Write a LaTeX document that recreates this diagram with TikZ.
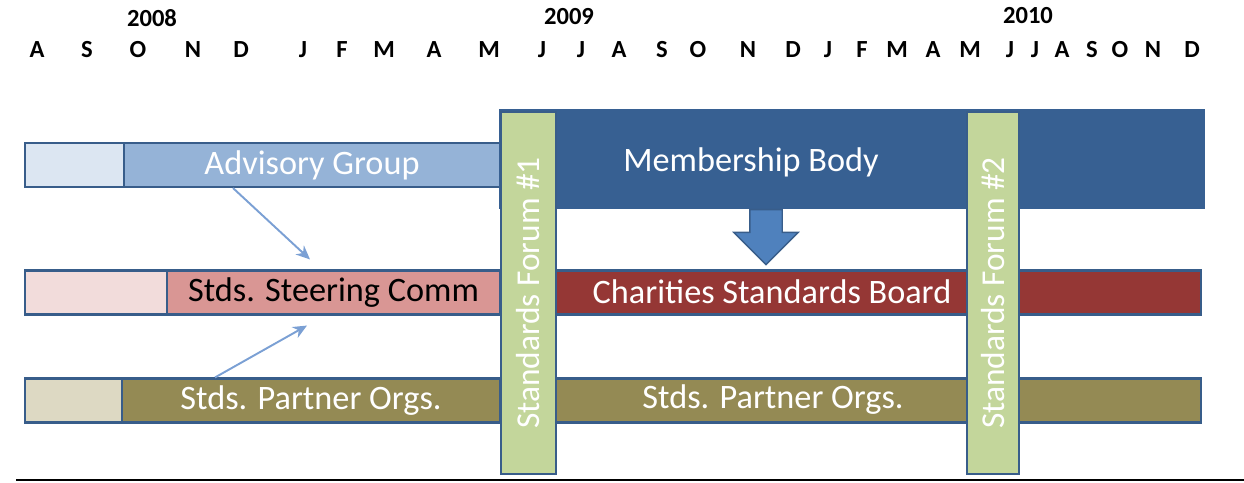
\documentclass[tikz,border=0pt]{standalone}
\usepackage{fontspec}
\setmainfont{Carlito}
\usepackage{tikz}
\usepackage{xcolor}
\usetikzlibrary{arrows.meta,shapes.arrows}

\definecolor{edgeblue}{HTML}{385D8A}
\definecolor{advlight}{HTML}{DCE6F2}
\definecolor{advmain}{HTML}{95B3D7}
\definecolor{stlight}{HTML}{F2DCDB}
\definecolor{stmain}{HTML}{D99694}
\definecolor{ptlight}{HTML}{DDD9C3}
\definecolor{ptmain}{HTML}{948A54}
\definecolor{memblue}{HTML}{376092}
\definecolor{csbred}{HTML}{953735}
\definecolor{forumgreen}{HTML}{C3D69B}
\definecolor{arrowfill}{HTML}{4F81BD}
\definecolor{linkblue}{HTML}{7BA0D4}

\begin{document}
\begin{tikzpicture}[x=0.02cm, y=-0.02cm,
    month/.style={font=\fontsize{14}{16}\selectfont\bfseries, inner sep=0pt},
    barbox/.style={rectangle, draw=edgeblue, line width=1.2pt, inner sep=0pt, minimum height=0.88cm, font=\fontsize{19.5}{22}\selectfont, text=white},
    lbl/.style={inner sep=0pt, font=\fontsize{19.5}{22}\selectfont, text=white},
    forum/.style={rectangle, rotate=90, draw=edgeblue, line width=1.2pt, fill=forumgreen, inner sep=0pt, minimum width=7.24cm, font=\fontsize{19}{22}\selectfont, text=white},
    link/.style={draw=linkblue, line width=1.1pt, -{Stealth[length=8pt,width=7pt]}}]
                \useasboundingbox (0,0) rectangle (1244,483);

                % years
                \node[month] (y2008) at (152,18) {2008};
                \node[month] (y2009) at (569,17) {2009};
                \node[month] (y2010) at (1028,16) {2010};

                % months
                \node[month] (aug08) at (37,50) {A};
                \node[month] (sep08) at (87,50) {S};
                \node[month] (oct08) at (138,50) {O};
                \node[month] (nov08) at (193,50) {N};
                \node[month] (dec08) at (241,50) {D};
                \node[month] (jan09) at (303,50) {J};
                \node[month] (feb09) at (342,50) {F};
                \node[month] (mar09) at (384,50) {M};
                \node[month] (apr09) at (434,50) {A};
                \node[month] (may09) at (489,50) {M};
                \node[month] (jun09) at (542,50) {J};
                \node[month] (jul09) at (581,50) {J};
                \node[month] (aug09) at (619,50) {A};
                \node[month] (sep09) at (662,50) {S};
                \node[month] (oct09) at (698,50) {O};
                \node[month] (nov09) at (748,50) {N};
                \node[month] (dec09) at (793,50) {D};
                \node[month] (jan10) at (828,50) {J};
                \node[month] (feb10) at (862,50) {F};
                \node[month] (mar10) at (897,50) {M};
                \node[month] (apr10) at (933,50) {A};
                \node[month] (may10) at (970,50) {M};
                \node[month] (jun10) at (1010,50) {J};
                \node[month] (jul10) at (1035,50) {J};
                \node[month] (aug10) at (1062,50) {A};
                \node[month] (sep10) at (1092,50) {S};
                \node[month] (oct10) at (1120,50) {O};
                \node[month] (nov10) at (1153,50) {N};
                \node[month] (dec10) at (1192,50) {D};

                % bars before forum 1
                \node[barbox, fill=advlight, minimum width=1.98cm] (advpre) at (74.5,165) {};
                \node[barbox, fill=advmain, minimum width=7.52cm] (advgrp) at (312,165) {Advisory Group};
                \node[barbox, fill=stlight, minimum width=2.84cm] (stpre) at (96,292.5) {};
                \node[barbox, fill=stmain, minimum width=6.66cm, text=black] (steer) at (333.5,292.5) {Stds. Steering Comm};
                \node[barbox, fill=ptlight, minimum width=1.94cm] (ptpre) at (73.5,400.5) {};
                \node[barbox, fill=ptmain, minimum width=7.56cm] (partner) at (311,400.5) {Stds. Partner Orgs.};

                % bars after forum 1
                \node[barbox, fill=memblue, draw=memblue, minimum width=14.08cm, minimum height=1.96cm] (member) at (852,159) {};
                \node[lbl] (membtxt) at (751,162) {Membership Body};
                \node[barbox, fill=csbred, minimum width=12.9cm] (csb) at (878.5,292.5) {};
                \node[lbl] (csbtxt) at (772,292) {Charities Standards Board};
                \node[barbox, fill=ptmain, minimum width=12.9cm] (partner2) at (878.5,400.5) {};
                \node[lbl] (ptxt2) at (773,400) {Stds. Partner Orgs.};

                % forums
                \node[forum, minimum height=1.1cm] (forum1) at (528.5,293) {Standards Forum \#1};
                \node[forum, minimum height=1.04cm] (forum2) at (993,293) {Standards Forum \#2};

                % arrows
                \node[single arrow, rotate=-90, draw=edgeblue, fill=arrowfill, line width=0.8pt, inner xsep=0pt, inner ysep=0.31cm, minimum height=1.1cm, minimum width=1.26cm, single arrow head extend=0.32cm] (down) at (766,229) {};
                \draw[link] ([xshift=-1.58cm]advgrp.south) -- ([xshift=-0.47cm,yshift=0.2cm]steer.north);
                \draw[link] ([xshift=-1.92cm]partner.north) -- ([xshift=-0.53cm,yshift=-0.2cm]steer.south);

                \draw[line width=1.1pt] (16,480) -- (1244,480);
            \end{tikzpicture}
\end{document}
